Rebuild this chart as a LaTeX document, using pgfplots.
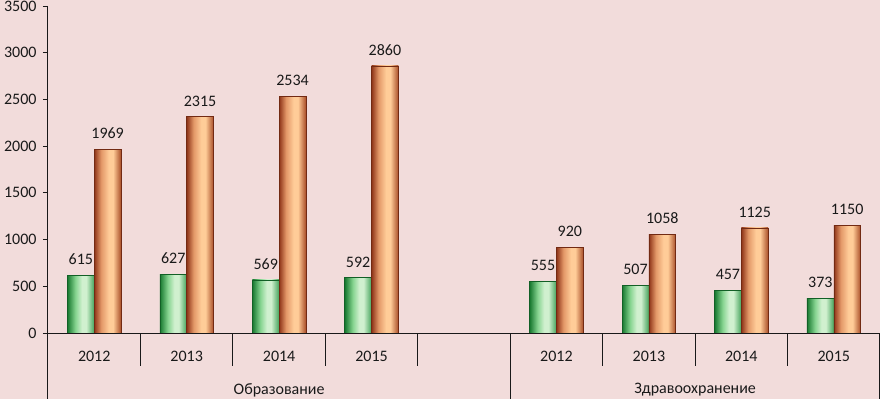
\documentclass[border=0pt]{standalone}
\usepackage{pgfplots}
\pgfplotsset{compat=1.18}
\usepackage{fontspec}
\setmainfont{Carlito}
\definecolor{bg}{HTML}{F2DCDB}
\definecolor{gA}{HTML}{17782F}
\definecolor{gB}{HTML}{86D490}
\definecolor{gC}{HTML}{D0F0CF}
\definecolor{gD}{HTML}{45A35C}
\definecolor{oA}{HTML}{8E3418}
\definecolor{oB}{HTML}{E39868}
\definecolor{oC}{HTML}{FFCC98}
\definecolor{oD}{HTML}{A94E28}
\pgfdeclarehorizontalshading{gbar}{100bp}{color(0bp)=(gA); color(25bp)=(gA); color(40bp)=(gB); color(52bp)=(gC); color(60bp)=(gC); color(75bp)=(gD); color(100bp)=(gD)}
\pgfdeclarehorizontalshading{obar}{100bp}{color(0bp)=(oA); color(25bp)=(oA); color(38bp)=(oB); color(52bp)=(oC); color(60bp)=(oC); color(75bp)=(oD); color(100bp)=(oD)}
\pgfplotsset{
  gb/.style={draw=gA!80!black, line width=0.5pt, shading=gbar, bar shift=0pt},
  ob/.style={draw=oA!80!black, line width=0.5pt, shading=obar, bar shift=0pt},
}
\begin{document}
\begin{tikzpicture}
\fill[bg] (-48pt,-66pt) rectangle (832pt,333pt);
\begin{axis}[
  at={(0pt,0pt)}, anchor=south west,
  scale only axis, width=832pt, height=327pt,
  xmin=-0.5, xmax=8.5, ymin=0, ymax=3500,
  clip=false,
  axis line style={draw=none},
  ytick={0,500,...,3500},
  ytick pos=left, tick align=outside,
  major tick length=5pt,
  tick style={black!90, line width=0.8pt},
  xtick={0,1,2,3,5,6,7,8},
  xticklabels={2012,2013,2014,2015,2012,2013,2014,2015},
  xtick style={draw=none},
  ticklabel style={font=\fontsize{16}{19}\selectfont, text=black!90},
  yticklabel style={xshift=-3pt},
  xticklabel style={yshift=-10pt},
  /pgf/number format/assume math mode=true,
  /pgf/number format/1000 sep={},
  scaled y ticks=false,
  ybar, bar width=0.29,
  nodes near coords,
  every node near coord/.style={font=\fontsize{16}{19}\selectfont, text=black!90, yshift=7pt},
]
% Образование, green
\addplot[gb] coordinates {(-0.145,615)};
\addplot[gb] coordinates {(0.855,627)};
\addplot[gb] coordinates {(1.855,569)};
\addplot[gb] coordinates {(2.855,592)};
% Образование, orange
\addplot[ob] coordinates {(0.145,1969)};
\addplot[ob] coordinates {(1.145,2315)};
\addplot[ob] coordinates {(2.145,2534)};
\addplot[ob] coordinates {(3.145,2860)};
% Здравоохранение, green
\addplot[gb] coordinates {(4.855,555)};
\addplot[gb] coordinates {(5.855,507)};
\addplot[gb] coordinates {(6.855,457)};
\addplot[gb] coordinates {(7.855,373)};
% Здравоохранение, orange
\addplot[ob] coordinates {(5.145,920)};
\addplot[ob] coordinates {(6.145,1058)};
\addplot[ob] coordinates {(7.145,1125)};
\addplot[ob] coordinates {(8.145,1150)};
% axis lines and separators
\draw[black!90, line width=1pt] (axis cs:-0.5,3500) -- ([yshift=-66pt]axis cs:-0.5,0);
\draw[black!90, line width=1pt] (axis cs:-0.5,0) -- (axis cs:8.5,0);
\draw[black!90, line width=1pt] (axis cs:0.5,0) -- ([yshift=-33pt]axis cs:0.5,0);
\draw[black!90, line width=1pt] (axis cs:1.5,0) -- ([yshift=-33pt]axis cs:1.5,0);
\draw[black!90, line width=1pt] (axis cs:2.5,0) -- ([yshift=-33pt]axis cs:2.5,0);
\draw[black!90, line width=1pt] (axis cs:3.5,0) -- ([yshift=-33pt]axis cs:3.5,0);
\draw[black!90, line width=1pt] (axis cs:5.5,0) -- ([yshift=-33pt]axis cs:5.5,0);
\draw[black!90, line width=1pt] (axis cs:6.5,0) -- ([yshift=-33pt]axis cs:6.5,0);
\draw[black!90, line width=1pt] (axis cs:7.5,0) -- ([yshift=-33pt]axis cs:7.5,0);
\draw[black!90, line width=1pt] (axis cs:4.5,0) -- ([yshift=-66pt]axis cs:4.5,0);
\draw[black!90, line width=1pt] ([xshift=-1pt]axis cs:8.5,0) -- ([xshift=-1pt,yshift=-66pt]axis cs:8.5,0);
\node[font=\fontsize{16}{19}\selectfont, text=black!90] at ([yshift=-57pt]axis cs:2,0) {Образование};
\node[font=\fontsize{16}{19}\selectfont, text=black!90] at ([yshift=-57pt]axis cs:6.5,0) {Здравоохранение};
\end{axis}
\pgfresetboundingbox
\useasboundingbox (-48pt,-66pt) rectangle (832pt,333pt);
\end{tikzpicture}
\end{document}
